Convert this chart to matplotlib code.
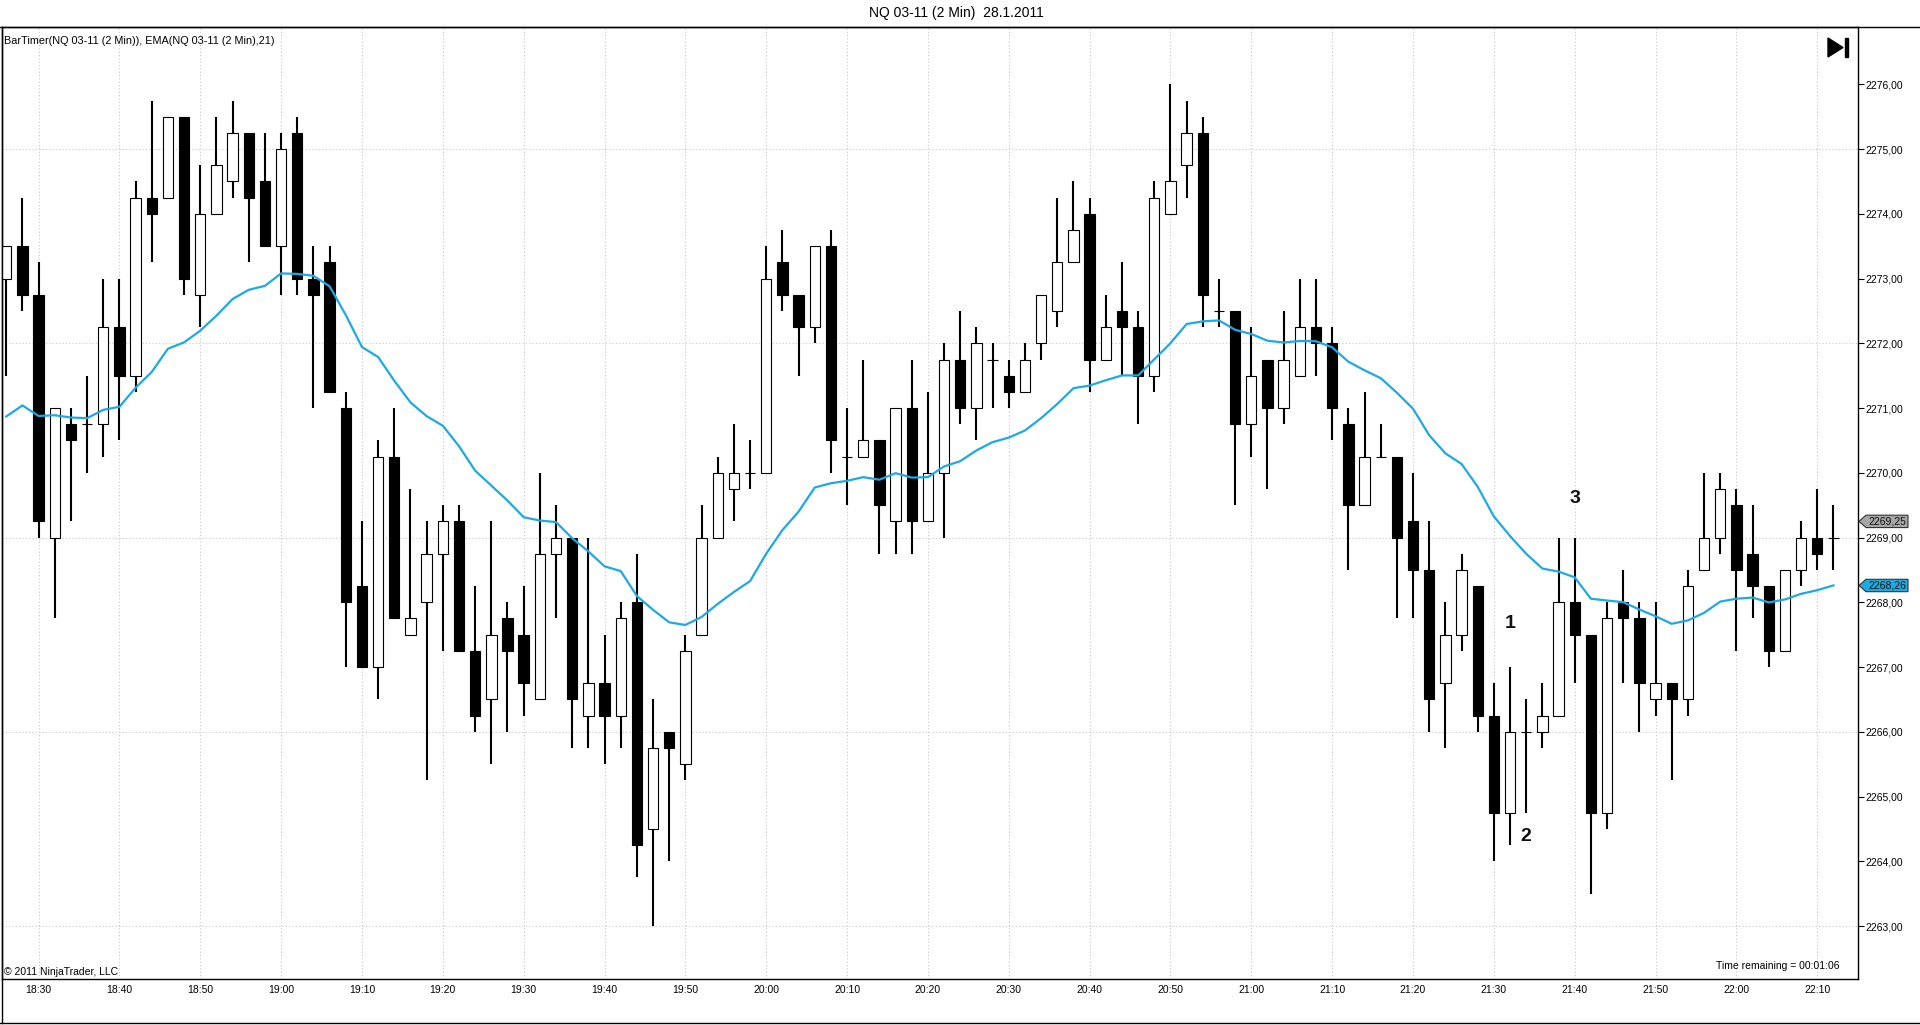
import matplotlib
matplotlib.use("Agg")
import matplotlib.pyplot as plt
from matplotlib.patches import Polygon
from matplotlib.lines import Line2D
from matplotlib.transforms import blended_transform_factory

plt.rcParams['font.family'] = ['Liberation Sans', 'DejaVu Sans']

# 2 min bars NQ 03-11, 18:26 .. 22:12
opens = [2273.00, 2273.50, 2272.75, 2269.00, 2270.75, 2270.75, 2270.75, 2272.25, 2271.50, 2274.25,
         2274.25, 2275.50, 2272.75, 2274.00, 2274.50, 2275.25, 2274.50, 2273.50, 2275.25, 2273.00,
         2273.25, 2271.00, 2268.25, 2267.00, 2270.25, 2267.50, 2268.00, 2268.75, 2269.25, 2267.25,
         2266.50, 2267.75, 2267.50, 2266.50, 2268.75, 2269.00, 2266.25, 2266.75, 2266.25, 2268.00,
         2264.50, 2266.00, 2265.50, 2267.50, 2269.00, 2269.75, 2270.00, 2270.00, 2273.25, 2272.75,
         2272.25, 2273.50, 2270.25, 2270.25, 2270.50, 2269.25, 2271.00, 2269.25, 2270.00, 2271.75,
         2271.00, 2271.75, 2271.50, 2271.25, 2272.00, 2272.50, 2273.25, 2274.00, 2271.75, 2272.50,
         2272.25, 2271.50, 2274.00, 2274.75, 2275.25, 2272.50, 2272.50, 2270.75, 2271.75, 2271.00,
         2271.50, 2272.25, 2272.00, 2270.75, 2269.50, 2270.25, 2270.25, 2269.25, 2268.50, 2266.75,
         2267.50, 2268.25, 2266.25, 2264.75, 2266.00, 2266.00, 2266.25, 2268.00, 2267.50, 2264.75,
         2268.00, 2267.75, 2266.50, 2266.75, 2266.50, 2268.50, 2269.00, 2269.50, 2268.75, 2268.25,
         2267.25, 2268.50, 2269.00, 2269.00]
highs = [2273.50, 2274.25, 2273.25, 2271.00, 2271.00, 2271.50, 2273.00, 2273.00, 2274.50, 2275.75,
         2275.50, 2275.50, 2274.75, 2275.50, 2275.75, 2275.25, 2275.25, 2275.25, 2275.50, 2273.50,
         2273.50, 2271.25, 2269.25, 2270.50, 2271.00, 2269.75, 2269.25, 2269.50, 2269.50, 2268.25,
         2269.25, 2268.00, 2268.25, 2270.00, 2269.50, 2269.00, 2269.00, 2267.50, 2268.00, 2268.75,
         2266.50, 2266.00, 2267.50, 2269.50, 2270.25, 2270.75, 2270.50, 2273.50, 2273.75, 2272.75,
         2273.50, 2273.75, 2271.00, 2271.75, 2270.50, 2271.00, 2271.75, 2271.25, 2272.00, 2272.50,
         2272.25, 2272.00, 2271.75, 2272.00, 2272.75, 2274.25, 2274.50, 2274.25, 2272.75, 2273.25,
         2272.50, 2274.50, 2276.00, 2275.75, 2275.50, 2273.00, 2272.50, 2272.25, 2271.75, 2272.50,
         2273.00, 2273.00, 2272.25, 2271.00, 2271.25, 2270.75, 2270.25, 2270.00, 2269.25, 2268.00,
         2268.75, 2268.25, 2266.75, 2267.00, 2266.50, 2266.75, 2269.00, 2269.00, 2267.50, 2268.00,
         2268.50, 2268.00, 2268.00, 2266.75, 2268.50, 2270.00, 2270.00, 2269.75, 2269.50, 2268.25,
         2268.50, 2269.25, 2269.75, 2269.50]
lows = [2271.50, 2272.50, 2269.00, 2267.75, 2269.25, 2270.00, 2270.25, 2270.50, 2271.25, 2273.25,
        2274.25, 2272.75, 2272.25, 2274.00, 2274.25, 2273.25, 2273.50, 2272.75, 2272.75, 2271.00,
        2271.25, 2267.00, 2267.00, 2266.50, 2267.75, 2267.50, 2265.25, 2267.25, 2267.25, 2266.00,
        2265.50, 2266.00, 2266.25, 2266.50, 2267.75, 2265.75, 2265.75, 2265.50, 2265.75, 2263.75,
        2263.00, 2264.00, 2265.25, 2267.50, 2269.00, 2269.25, 2269.75, 2270.00, 2272.50, 2271.50,
        2272.00, 2270.00, 2269.50, 2270.25, 2268.75, 2268.75, 2268.75, 2269.25, 2269.00, 2270.75,
        2270.50, 2271.00, 2271.00, 2271.25, 2271.75, 2272.25, 2273.25, 2271.25, 2271.75, 2271.50,
        2270.75, 2271.25, 2274.00, 2274.25, 2272.25, 2272.25, 2269.50, 2270.25, 2269.75, 2270.75,
        2271.50, 2271.50, 2270.50, 2268.50, 2269.50, 2270.25, 2267.75, 2267.75, 2266.00, 2265.75,
        2267.25, 2266.00, 2264.00, 2264.25, 2264.75, 2265.75, 2266.25, 2266.75, 2263.50, 2264.50,
        2266.75, 2266.00, 2266.25, 2265.25, 2266.25, 2268.50, 2268.75, 2267.25, 2267.75, 2267.00,
        2267.25, 2268.25, 2268.50, 2268.50]
closes = [2273.50, 2272.75, 2269.25, 2271.00, 2270.50, 2270.75, 2272.25, 2271.50, 2274.25, 2274.00,
          2275.50, 2273.00, 2274.00, 2274.75, 2275.25, 2274.25, 2273.50, 2275.00, 2273.00, 2272.75,
          2271.25, 2268.00, 2267.00, 2270.25, 2267.75, 2267.75, 2268.75, 2269.25, 2267.25, 2266.25,
          2267.50, 2267.25, 2266.75, 2268.75, 2269.00, 2266.50, 2266.75, 2266.25, 2267.75, 2264.25,
          2265.75, 2265.75, 2267.25, 2269.00, 2270.00, 2270.00, 2270.00, 2273.00, 2272.75, 2272.25,
          2273.50, 2270.50, 2270.25, 2270.50, 2269.50, 2271.00, 2269.25, 2270.00, 2271.75, 2271.00,
          2272.00, 2271.75, 2271.25, 2271.75, 2272.75, 2273.25, 2273.75, 2271.75, 2272.25, 2272.25,
          2271.50, 2274.25, 2274.50, 2275.25, 2272.75, 2272.50, 2270.75, 2271.50, 2271.00, 2271.75,
          2272.25, 2272.00, 2271.00, 2269.50, 2270.25, 2270.25, 2269.00, 2268.50, 2266.50, 2267.50,
          2268.50, 2266.25, 2264.75, 2266.00, 2266.00, 2266.25, 2268.00, 2267.50, 2264.75, 2267.75,
          2267.75, 2266.75, 2266.75, 2266.50, 2268.25, 2269.00, 2269.75, 2268.50, 2268.25, 2267.25,
          2268.50, 2269.00, 2268.75, 2269.00]

ema_period = 21
ema_start = 2270.87   # EMA value on the first visible bar
last_price = 2269.25
ema_last = 2268.26    # value shown in the EMA marker
time_labels = ['18:30', '18:40', '18:50', '19:00', '19:10', '19:20', '19:30', '19:40', '19:50',
               '20:00', '20:10', '20:20', '20:30', '20:40', '20:50', '21:00', '21:10', '21:20',
               '21:30', '21:40', '21:50', '22:00', '22:10']
grid_prices = [2263, 2266, 2269, 2272, 2275]
price_ticks = list(range(2263, 2277))
notes = [('1', 93, 2267.67), ('2', 94, 2264.39), ('3', 97, 2269.61)]

n = len(closes)
x = list(range(n))

# EMA(21) from the closes
k = 2.0 / (ema_period + 1)
ema = [ema_start]
for c in closes[1:]:
    ema.append(ema[-1] + k * (c - ema[-1]))

W, H = 1920, 1025
fig = plt.figure(figsize=(W / 100, H / 100), dpi=100)
fig.patch.set_facecolor('white')
ax = fig.add_axes([1.7 / W, 1 - 978.5 / H, (1858.5 - 1.7) / W, (978.5 - 26.7) / H])
ax.set_xlim(-0.28, 114.55)
ax.set_ylim(2262.19, 2276.89)

# grid
for g in grid_prices:
    ax.axhline(g, color='#c8c8c8', lw=0.8, ls=(0, (1, 2)), zorder=0)
tick_bars = list(range(2, n, 5))
for t in tick_bars:
    ax.axvline(t, color='#c8c8c8', lw=0.8, ls=(0, (1, 2)), zorder=0)

# candles
ax.vlines(x, lows, highs, color='black', lw=1.5, zorder=2)
bottoms = [min(o, c) for o, c in zip(opens, closes)]
heights = [abs(c - o) for o, c in zip(opens, closes)]
faces = ['white' if c > o else 'black' for o, c in zip(opens, closes)]
ax.bar(x, heights, bottom=bottoms, width=0.64, color=faces, edgecolor='black', lw=0.8, zorder=3)

ax.plot(x, ema, color='#1ea9e3', lw=1.6, zorder=4)

for txt, bx, by in notes:
    ax.text(bx, by, txt, fontsize=14, fontweight='bold', ha='center', va='center', color='#111111')

# axes
ax.yaxis.tick_right()
ax.set_yticks(price_ticks)
ax.set_yticklabels(['%d,00' % p for p in price_ticks], fontsize=7.5)
ax.set_xticks(tick_bars)
ax.set_xticklabels(time_labels, fontsize=7.5)
ax.tick_params(axis='y', length=4, width=0.8, pad=1)
ax.tick_params(axis='x', length=0, pad=5)
for s in ax.spines.values():
    s.set_linewidth(1)

# outer frame
fig.add_artist(Line2D([0, 1], [1 - 26.7 / H, 1 - 26.7 / H], color='black', lw=1, transform=fig.transFigure))
fig.add_artist(Line2D([0, 1], [1 - 1023 / H, 1 - 1023 / H], color='black', lw=1, transform=fig.transFigure))
fig.add_artist(Line2D([1.7 / W, 1.7 / W], [1 - 26.7 / H, 1 - 1023 / H], color='black', lw=1, transform=fig.transFigure))

# texts
fig.text(956 / W, 1 - 13 / H, 'NQ 03-11 (2 Min)  28.1.2011', ha='center', va='center', fontsize=10)
fig.text(3.5 / W, 1 - 40.7 / H, 'BarTimer(NQ 03-11 (2 Min)), EMA(NQ 03-11 (2 Min),21)',
         ha='left', va='center', fontsize=7.8)
fig.text(3.5 / W, 1 - 972 / H, '\u00a9 2011 NinjaTrader, LLC', ha='left', va='center', fontsize=7.5)
fig.text(1839 / W, 1 - 966 / H, 'Time remaining = 00:01:06', ha='right', va='center', fontsize=7.5)

# go-to-end icon
fig.add_artist(Polygon([[1828 / W, 1 - 38 / H], [1828 / W, 1 - 57 / H], [1843 / W, 1 - 47.5 / H]],
                       closed=True, color='black', transform=fig.transFigure))
fig.add_artist(Polygon([[1845 / W, 1 - 38 / H], [1848 / W, 1 - 38 / H], [1848 / W, 1 - 57 / H], [1845 / W, 1 - 57 / H]],
                       closed=True, color='black', transform=fig.transFigure))

# price markers on the axis
tr = blended_transform_factory(fig.transFigure, ax.transData)
half = 6.2 / 64.75
for val, face in [(last_price, '#a6a6a6'), (ema_last, '#1ea9e3')]:
    pts = [[1859 / W, val], [1866 / W, val + half], [1908 / W, val + half],
           [1908 / W, val - half], [1866 / W, val - half]]
    ax.add_patch(Polygon(pts, closed=True, facecolor=face, edgecolor='#333333', lw=0.8,
                         transform=tr, clip_on=False, zorder=5))
    ax.text(1887 / W, val, ('%.2f' % val).replace('.', ','), transform=tr, ha='center', va='center',
            fontsize=7.5, color='#111111', clip_on=False, zorder=6)

fig.savefig('out.png', dpi=100)
